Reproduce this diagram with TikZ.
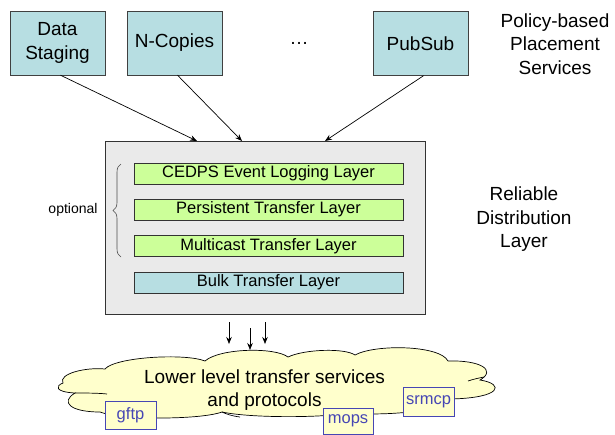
\documentclass[tikz,border=0pt]{standalone}
\usepackage{fontspec}
\setmainfont{Liberation Sans}
\usetikzlibrary{arrows.meta,decorations.pathreplacing,calc}
\definecolor{svcblue}{HTML}{B7DEE2}
\definecolor{layergreen}{HTML}{CCFF99}
\definecolor{rdlgray}{HTML}{EAEAEA}
\definecolor{cloudyellow}{HTML}{FFFFCC}
\definecolor{protoblue}{HTML}{4646B4}
\begin{document}
\begin{tikzpicture}[x=1pt,y=-1pt,
  svcbox/.style={draw=black!75,fill=svcblue,minimum width=95pt,minimum height=64pt,inner sep=0pt,align=center,font=\fontsize{19}{24}\selectfont},
  layerbox/.style={draw=black!80,fill=layergreen,minimum width=269pt,minimum height=21pt,inner sep=0pt,font=\fontsize{16.5}{19}\selectfont},
  label/.style={align=center,font=\fontsize{19}{23.5}\selectfont},
  proto/.style={draw=protoblue,fill=cloudyellow,text=protoblue,inner sep=0pt,font=\fontsize{16.5}{19}\selectfont},
  arr/.style={-{Stealth[length=7pt,width=5.5pt]},line width=0.7pt}]
\useasboundingbox (0,0) rectangle (615,434);

% service boxes
\node[svcbox] (ds) at (57.5,43) {Data\\Staging};
\node[svcbox] (nc) at (174.5,43) {N-Copies};
\node[label] (dots) at (299,43) {\dots};
\node[svcbox] (ps) at (420.5,43.5) {PubSub};
\node[label] (pbps) at (555,44) {Policy-based\\Placement\\Services};

% reliable distribution layer
\node[draw=black!80,fill=rdlgray,minimum width=320pt,minimum height=173pt,inner sep=0pt] (rdl) at (265,227.5) {};
\node[layerbox] (cedps) at (268.5,173.5) {CEDPS Event Logging Layer};
\node[layerbox] (pers) at (268.5,209.5) {Persistent Transfer Layer};
\node[layerbox] (mult) at (268.5,246) {Multicast Transfer Layer};
\node[layerbox,fill=svcblue] (bulk) at (268.5,282.5) {Bulk Transfer Layer};
\node[label] (rdllab) at (524,219.5) {Reliable\\Distribution\\Layer};

% brace
\coordinate (bt) at (121,164);
\coordinate (bb) at (121,257);
\draw[black!70,line width=0.6pt,decorate,decoration={brace,amplitude=8pt}] (bb) -- (bt);
\node[font=\fontsize{14}{16}\selectfont] (opt) at (73,210) {optional};

% arrows from services
\coordinate (e1) at (197,141);
\coordinate (e2) at (242,141);
\coordinate (e3) at (325,141);
\draw[arr] ($(ds.south)+(3,0)$) -- (e1);
\draw[arr] ($(nc.south)+(3,0)$) -- (e2);
\draw[arr] ($(ps.south)+(3,0)$) -- (e3);

% down arrows
\coordinate (d1s) at (229,322); \coordinate (d1e) at (229,344);
\coordinate (d2s) at (250,328); \coordinate (d2e) at (250,350);
\coordinate (d3s) at (265,322); \coordinate (d3e) at (265,344);
\draw[arr] (d1s) -- (d1e);
\draw[arr] (d2s) -- (d2e);
\draw[arr] (d3s) -- (d3e);

% cloud
\draw[fill=cloudyellow,line width=0.7pt] (63,383)
  .. controls (58,374) and (85,367) .. (105,369)
  .. controls (115,357) and (185,353) .. (205,361)
  .. controls (220,348) and (275,347) .. (288,357)
  .. controls (305,349) and (345,348) .. (355,355)
  .. controls (375,344) and (440,345) .. (448,361)
  .. controls (480,360) and (497,370) .. (480,380)
  .. controls (505,384) and (502,398) .. (450,399)
  .. controls (445,412) and (380,416) .. (350,413)
  .. controls (320,418) and (250,418) .. (222,412)
  .. controls (200,420) and (120,420) .. (100,412)
  .. controls (70,412) and (60,402) .. (75,393)
  .. controls (55,392) and (55,386) .. (63,383) -- cycle;
\draw[line width=0.7pt] (75,393) .. controls (85,393) and (98,393) .. (107,394);
\draw[line width=0.7pt] (468,381) .. controls (474,379) and (479,378) .. (484,377);
\draw[line width=0.7pt] (222,412) .. controls (226,414) and (232,416) .. (240,417);
\node[label] (cl) at (264.5,390) {Lower level transfer services\\and protocols};

% protocol boxes
\node[proto,minimum width=51pt,minimum height=28pt] (gftp) at (130.5,415) {gftp};
\node[proto,minimum width=50pt,minimum height=26pt] (mops) at (348,421) {mops};
\node[proto,minimum width=51pt,minimum height=29pt] (srmcp) at (428.5,401.5) {srmcp};
\end{tikzpicture}
\end{document}
